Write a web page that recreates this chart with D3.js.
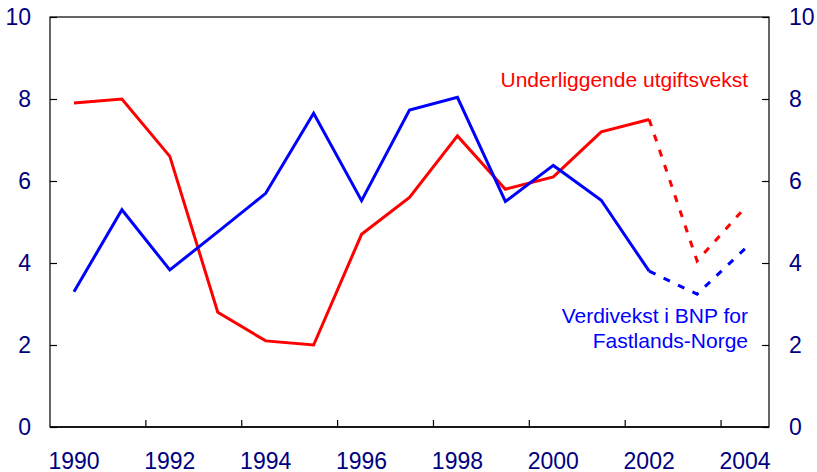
<!DOCTYPE html>
<html>
<head>
<meta charset="utf-8">
<script src="https://cdn.jsdelivr.net/npm/d3@7"></script>
<style>
  body { margin: 0; background: #fff; }
  svg { font-family: "Liberation Sans", Arial, sans-serif; }
</style>
</head>
<body>
<svg id="chart" width="817" height="472"></svg>
<script>
// years on the x axis, values in percent
var years = [1990, 1991, 1992, 1993, 1994, 1995, 1996, 1997, 1998, 1999, 2000, 2001, 2002, 2003, 2004];
var utgift = [7.9, 8.0, 6.6, 2.8, 2.1, 2.0, 4.7, 5.6, 7.1, 5.8, 6.1, 7.2, 7.5, 4.05, 5.35];
var bnp = [3.3, 5.3, 3.83, 4.76, 5.7, 7.65, 5.52, 7.73, 8.04, 5.5, 6.38, 5.53, 3.8, 3.24, 4.35];
var lastActual = 2002; // after this the line is dashed (anslag)
var xLabels = [1990, 1992, 1994, 1996, 1998, 2000, 2002, 2004];
var yTicks = [0, 2, 4, 6, 8, 10];

function drawChart() {
  var svg = d3.select("#chart");
  var mLeft = 50, mRight = 769, mTop = 17, mBottom = 427;
  var labelColor = "#000080";

  var x = d3.scaleBand().domain(years).range([mLeft, mRight]).padding(0);
  var y = d3.scaleLinear().domain([0, 10]).range([mBottom, mTop]);
  var cx = function(yr) { return x(yr) + x.bandwidth() / 2; };

  // frame
  svg.append("rect")
    .attr("x", mLeft).attr("y", mTop)
    .attr("width", mRight - mLeft).attr("height", mBottom - mTop)
    .attr("fill", "none").attr("stroke", "#000").attr("stroke-width", 1.2);

  // y axes, ticks pointing inwards
  var yl = svg.append("g").attr("transform", "translate(" + mLeft + ",0)")
    .call(d3.axisLeft(y).tickValues(yTicks).tickSize(-7).tickPadding(19).tickFormat(d3.format("d")));
  var yr = svg.append("g").attr("transform", "translate(" + mRight + ",0)")
    .call(d3.axisRight(y).tickValues(yTicks).tickSize(-7).tickPadding(20).tickFormat(d3.format("d")));
  [yl, yr].forEach(function(g) {
    g.select(".domain").remove();
    g.selectAll(".tick line").attr("stroke", "#000").attr("stroke-width", 1.2);
    g.selectAll(".tick text")
      .attr("fill", labelColor)
      .style("font-size", "23px")
      .style("font-family", "'Liberation Sans', Arial, sans-serif");
  });

  // x axis: ticks at start of each even-year band, labels centred
  svg.append("line")
    .attr("x1", mLeft).attr("x2", mRight)
    .attr("y1", mBottom).attr("y2", mBottom)
    .attr("stroke", "#000").attr("stroke-width", 1.6);

  svg.selectAll(".xtick")
    .data(xLabels.filter(function(d) { return d !== years[0]; }))
    .enter().append("line")
    .attr("class", "xtick")
    .attr("x1", function(d) { return x(d); })
    .attr("x2", function(d) { return x(d); })
    .attr("y1", mBottom).attr("y2", mBottom - 7)
    .attr("stroke", "#000").attr("stroke-width", 1.2);

  svg.selectAll(".xlabel")
    .data(xLabels)
    .enter().append("text")
    .attr("class", "xlabel")
    .attr("x", function(d) { return cx(d); })
    .attr("y", 469)
    .attr("text-anchor", "middle")
    .attr("fill", labelColor)
    .style("font-size", "23px")
    .text(function(d) { return d; });

  // lines
  var line = d3.line()
    .x(function(d) { return cx(d.year); })
    .y(function(d) { return y(d.value); });

  function drawSeries(values, color) {
    var pts = years.map(function(yr, i) { return { year: yr, value: values[i] }; });
    var solid = pts.filter(function(d) { return d.year <= lastActual; });
    var dashed = pts.filter(function(d) { return d.year >= lastActual; });
    svg.append("path").datum(solid)
      .attr("d", line)
      .attr("fill", "none").attr("stroke", color)
      .attr("stroke-width", 3).attr("stroke-linejoin", "miter");
    svg.append("path").datum(dashed)
      .attr("d", line)
      .attr("fill", "none").attr("stroke", color)
      .attr("stroke-width", 3).attr("stroke-dasharray", "7,9");
  }

  drawSeries(utgift, "#ff0000");
  drawSeries(bnp, "#0000ff");

  // series labels
  svg.append("text")
    .attr("x", 748).attr("y", 87)
    .attr("text-anchor", "end")
    .attr("fill", "#ff0000")
    .style("font-size", "21px")
    .text("Underliggende utgiftsvekst");

  var bl = svg.append("text")
    .attr("text-anchor", "end")
    .attr("fill", "#0000ff")
    .style("font-size", "21px");
  bl.append("tspan").attr("x", 748).attr("y", 323).text("Verdivekst i BNP for");
  bl.append("tspan").attr("x", 748).attr("y", 348).text("Fastlands-Norge");
}

drawChart();
</script>
</body>
</html>
